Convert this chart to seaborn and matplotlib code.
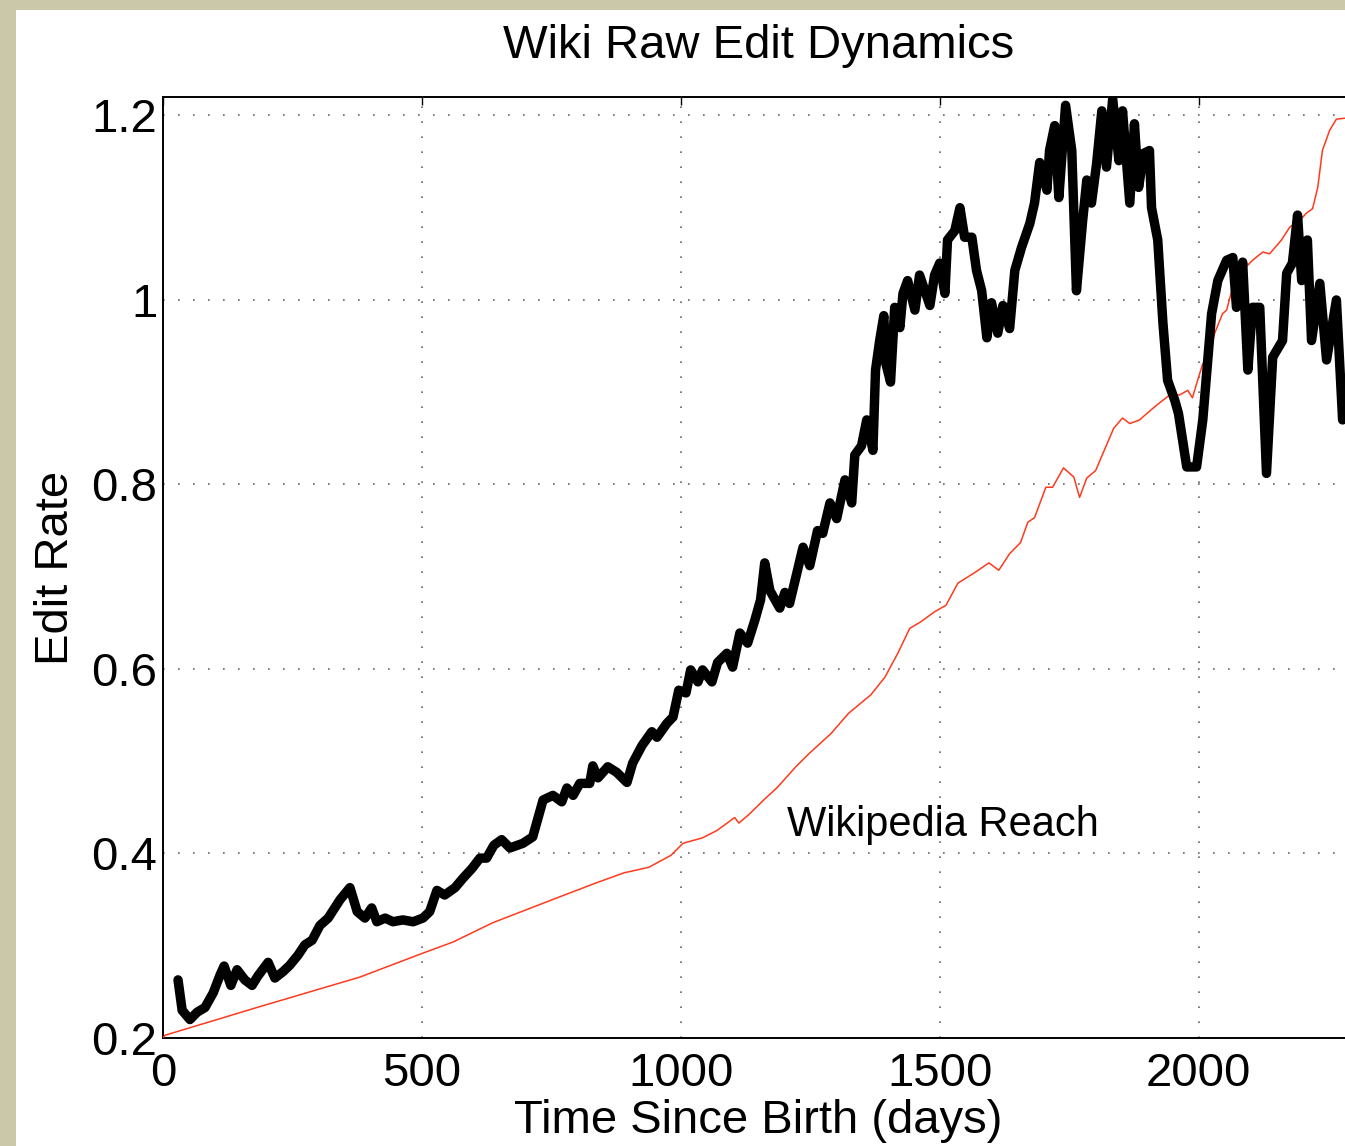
import numpy as np
import pandas as pd
import matplotlib
matplotlib.use("Agg")
import matplotlib.pyplot as plt
import seaborn as sns
from matplotlib.patches import Rectangle

# ---- data ----
edit_days = [29, 37, 52, 66, 81, 97, 110, 118, 131, 143, 158, 172, 183, 203, 216, 232, 245, 261, 274, 288,
             303, 319, 342, 361, 375, 390, 403, 413, 429, 444, 463, 483, 502, 515, 529, 544, 564, 579, 597, 612,
             625, 639, 654, 670, 695, 714, 734, 753, 770, 780, 792, 805, 824, 830, 840, 859, 876, 896, 907, 925,
             944, 954, 973, 985, 996, 1010, 1019, 1033, 1042, 1060, 1071, 1089, 1100, 1114, 1129, 1143, 1154, 1162,
             1172, 1191, 1201, 1210, 1224, 1236, 1249, 1264, 1274, 1288, 1301, 1317, 1330, 1336, 1349, 1359, 1371,
             1376, 1384, 1392, 1396, 1405, 1413, 1423, 1429, 1438, 1452, 1461, 1481, 1490, 1500, 1510, 1515, 1529,
             1539, 1548, 1562, 1571, 1581, 1591, 1600, 1612, 1622, 1635, 1645, 1658, 1674, 1683, 1693, 1707, 1712,
             1722, 1730, 1743, 1755, 1764, 1776, 1784, 1793, 1803, 1813, 1822, 1834, 1846, 1853, 1867, 1876, 1884,
             1894, 1905, 1909, 1921, 1931, 1940, 1954, 1961, 1977, 1996, 2008, 2025, 2037, 2054, 2066, 2073, 2085,
             2095, 2104, 2118, 2131, 2143, 2162, 2170, 2181, 2191, 2199, 2210, 2218, 2234, 2247, 2266, 2278, 2300]
edit_rate = [0.263, 0.230, 0.220, 0.228, 0.233, 0.249, 0.268, 0.278, 0.257, 0.274, 0.263, 0.257, 0.267, 0.282,
             0.265, 0.272, 0.279, 0.290, 0.301, 0.306, 0.322, 0.330, 0.350, 0.363, 0.337, 0.330, 0.341, 0.326,
             0.330, 0.326, 0.328, 0.326, 0.330, 0.337, 0.360, 0.355, 0.363, 0.373, 0.384, 0.395, 0.395, 0.409,
             0.415, 0.406, 0.411, 0.418, 0.458, 0.463, 0.456, 0.471, 0.463, 0.476, 0.476, 0.495, 0.482, 0.494,
             0.488, 0.477, 0.498, 0.517, 0.532, 0.526, 0.541, 0.548, 0.577, 0.574, 0.599, 0.586, 0.599, 0.586,
             0.607, 0.617, 0.602, 0.639, 0.628, 0.653, 0.675, 0.715, 0.685, 0.666, 0.683, 0.671, 0.704, 0.732,
             0.712, 0.750, 0.747, 0.780, 0.763, 0.805, 0.780, 0.832, 0.842, 0.870, 0.837, 0.924, 0.956, 0.983,
             0.931, 0.911, 0.992, 0.970, 1.007, 1.021, 0.989, 1.027, 0.994, 1.027, 1.040, 1.007, 1.065, 1.075,
             1.100, 1.068, 1.068, 1.032, 1.010, 0.959, 0.997, 0.964, 0.994, 0.969, 1.032, 1.057, 1.083, 1.105,
             1.149, 1.119, 1.162, 1.189, 1.111, 1.211, 1.162, 1.010, 1.086, 1.130, 1.105, 1.148, 1.205, 1.144,
             1.218, 1.151, 1.205, 1.105, 1.191, 1.122, 1.159, 1.162, 1.100, 1.065, 0.975, 0.913, 0.891, 0.877,
             0.819, 0.819, 0.870, 0.985, 1.021, 1.043, 1.046, 0.992, 1.041, 0.924, 0.992, 0.992, 0.812, 0.938,
             0.956, 1.029, 1.040, 1.092, 1.021, 1.065, 0.956, 1.018, 0.935, 1.000, 0.870, 0.891]

reach_days = [0, 4, 187, 380, 502, 560, 637, 766, 836, 890, 938, 981, 1004, 1042, 1070, 1104, 1112, 1131, 1160,
              1187, 1222, 1249, 1290, 1324, 1367, 1394, 1419, 1442, 1463, 1490, 1512, 1535, 1569, 1595, 1614,
              1635, 1656, 1670, 1683, 1705, 1718, 1739, 1759, 1770, 1784, 1801, 1820, 1836, 1853, 1867, 1886,
              1902, 1919, 1944, 1963, 1979, 1988, 1998, 2008, 2015, 2031, 2046, 2054, 2064, 2085, 2104, 2124,
              2137, 2160, 2176, 2195, 2208, 2220, 2230, 2239, 2253, 2266, 2282, 2300]
reach_rate = [0.200, 0.203, 0.234, 0.266, 0.292, 0.304, 0.325, 0.353, 0.368, 0.379, 0.385, 0.398, 0.411,
              0.417, 0.425, 0.439, 0.433, 0.442, 0.458, 0.472, 0.494, 0.509, 0.530, 0.552, 0.572, 0.591, 0.617,
              0.644, 0.651, 0.662, 0.669, 0.693, 0.705, 0.715, 0.707, 0.725, 0.737, 0.759, 0.764, 0.797, 0.797,
              0.818, 0.808, 0.786, 0.807, 0.815, 0.840, 0.861, 0.872, 0.866, 0.870, 0.878, 0.886, 0.897, 0.897,
              0.902, 0.894, 0.913, 0.931, 0.929, 0.964, 0.985, 0.989, 1.010, 1.032, 1.043, 1.052, 1.050, 1.065,
              1.079, 1.086, 1.094, 1.099, 1.122, 1.162, 1.184, 1.196, 1.197, 1.197]

x_ticks = [0, 500, 1000, 1500, 2000]
y_ticks = [0.2, 0.4, 0.6, 0.8, 1.0, 1.2]
y_tick_labels = ["0.2", "0.4", "0.6", "0.8", "1", "1.2"]

title = "Wiki Raw Edit Dynamics"
x_label = "Time Since Birth (days)"
y_label = "Edit Rate"
annotation = "Wikipedia Reach"

# ---- style ----
sns.set_style("white")
plt.rcParams["font.family"] = ["Liberation Sans", "DejaVu Sans"]
plt.rcParams["text.color"] = "black"
plt.rcParams["axes.labelcolor"] = "black"

W, H = 1345, 1146
fig = plt.figure(figsize=(W / 100, H / 100), dpi=100)
fig.patch.set_facecolor("#cbc8aa")
fig.patches.append(Rectangle((16 / W, 0), 1 - 16 / W, 1 - 10 / H, transform=fig.transFigure,
                             facecolor="white", edgecolor="none", zorder=-10))

left, right_px, top_px, bottom_px = 163, 1354, 97, 1038
ax = fig.add_axes([left / W, (H - bottom_px) / H, (right_px - left) / W, (bottom_px - top_px) / H])
ax.set_zorder(5)
ax.set_facecolor("white")

edit_df = pd.DataFrame({"days": edit_days, "rate": edit_rate})
reach_df = pd.DataFrame({"days": reach_days, "rate": reach_rate})

sns.lineplot(data=reach_df, x="days", y="rate", ax=ax, color="#ff3a1c", lw=1.1,
             estimator=None, sort=False, zorder=3)
sns.lineplot(data=edit_df, x="days", y="rate", ax=ax, color="black", lw=6.8,
             estimator=None, sort=False, zorder=4, solid_capstyle="round", solid_joinstyle="round")

ax.set_xlim(0, 2300)
ax.set_ylim(0.2, 1.22)
ax.set_xticks(x_ticks)
ax.set_xticklabels([str(t) for t in x_ticks])
ax.set_yticks(y_ticks)
ax.set_yticklabels(y_tick_labels)

ax.grid(True, color="#666666", linestyle=(0, (1, 8)), linewidth=1.2)
ax.set_axisbelow(True)

for s in ax.spines.values():
    s.set_visible(True)
    s.set_color("black")
    s.set_linewidth(1.4)

ax.tick_params(axis="both", which="major", direction="in", length=6, width=1.0,
               top=True, right=True, labelsize=34, colors="black")
ax.tick_params(axis="x", pad=10)
ax.tick_params(axis="y", pad=4)

ax.set_title(title, fontsize=34, pad=28, color="black")
ax.set_xlabel(x_label, fontsize=34, labelpad=2, color="black")
ax.set_ylabel(y_label, fontsize=34, labelpad=10, color="black")

ax.text(1205, 0.431, annotation, fontsize=30, ha="left", va="center", zorder=5, color="black")

fig.savefig("out.png", dpi=100, facecolor=fig.get_facecolor())
